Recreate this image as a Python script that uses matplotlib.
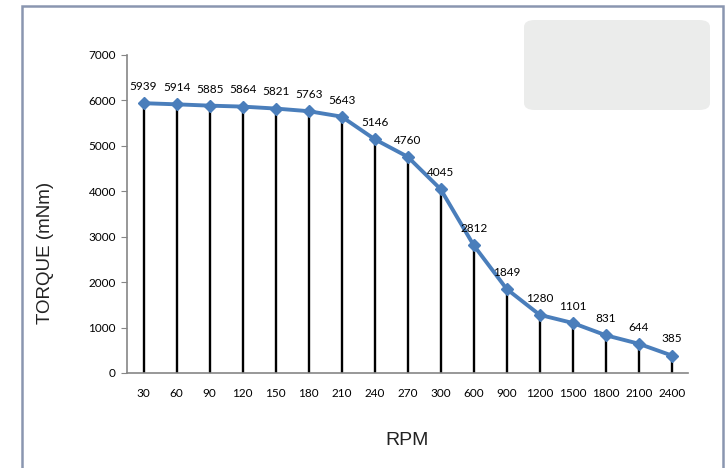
import matplotlib.pyplot as plt
from matplotlib.patches import FancyBboxPatch, Rectangle

rpm = ["30", "60", "90", "120", "150", "180", "210", "240", "270", "300",
       "600", "900", "1200", "1500", "1800", "2100", "2400"]
torque = [5939, 5914, 5885, 5864, 5821, 5763, 5643, 5146, 4760, 4045,
          2812, 1849, 1280, 1101, 831, 644, 385]

fig = plt.figure(figsize=(7.26, 4.68), dpi=100)
ax = fig.add_axes([0.175, 0.203, 0.773, 0.6795])

x = list(range(len(rpm)))

# drop lines
ax.vlines(x, 0, torque, colors="black", linewidth=1.7, zorder=2)
ax.plot(x, torque, color="#4a7ebb", linewidth=2.8, marker="D", markersize=6,
        markerfacecolor="#4a7ebb", markeredgecolor="#4a7ebb", zorder=3)

for xi, v in zip(x, torque):
    ax.annotate(str(v), (xi, v), xytext=(0, 8), textcoords="offset points",
                ha="center", va="bottom", fontsize=8.5, family="Lato")

ax.set_xlim(-0.5, len(rpm) - 0.5)
ax.set_ylim(0, 7000)
ax.set_yticks(range(0, 7001, 1000))
ax.set_xticks(x)
ax.set_xticklabels(rpm, family="Lato", fontsize=8.5)
for lab in ax.get_yticklabels():
    lab.set_family("Lato")
    lab.set_fontsize(8.5)
ax.tick_params(axis="x", length=0, pad=11)
ax.tick_params(axis="y", length=4, color="#868686", pad=4)

for s in ["top", "right"]:
    ax.spines[s].set_visible(False)
for s in ["left", "bottom"]:
    ax.spines[s].set_color("#868686")
    ax.spines[s].set_linewidth(1.2)

fig.text(0.062, 0.46, "TORQUE (mNm)", rotation=90, ha="center", va="center",
         fontsize=13.5, family="Liberation Sans", color="#222222")
fig.text(0.561, 0.058, "RPM", ha="center", va="center",
         fontsize=14, family="Liberation Sans", color="#222222")

# empty legend box
fig.patches.append(FancyBboxPatch((524 / 726, 1 - 110 / 468), 186 / 726, 90 / 468,
                                  boxstyle="round,pad=0,rounding_size=0.015",
                                  transform=fig.transFigure, facecolor="#ebeceb",
                                  edgecolor="none", zorder=0))

# chart frame
fig.patches.append(Rectangle((22 / 726, -0.05), 701 / 726, 1.05 - 6 / 468,
                             transform=fig.transFigure, fill=False,
                             edgecolor="#8a96b0", linewidth=1.8, zorder=5))

fig.savefig("out.png", dpi=100)
